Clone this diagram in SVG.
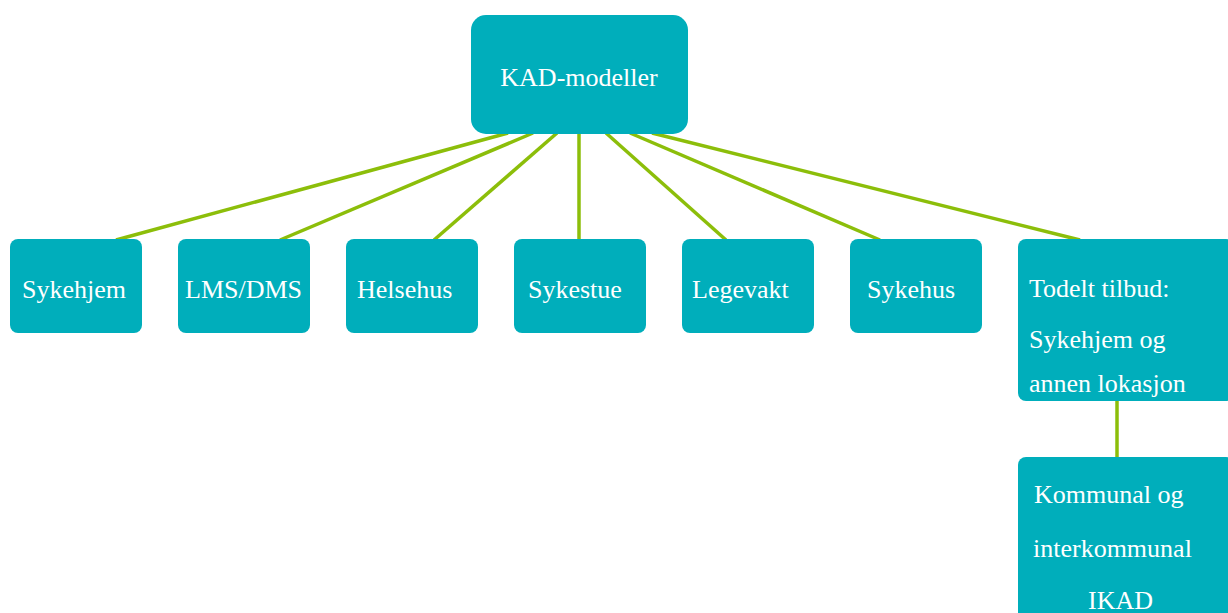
<svg xmlns="http://www.w3.org/2000/svg" width="1228" height="613" viewBox="0 0 1228 613">
<style>
.box{fill:#00AEBB;}
.t{font-family:"Liberation Serif",serif;font-size:26px;fill:#ffffff;}
.c{stroke:#8CBE0A;stroke-width:3.5;fill:none;}
</style>
<rect width="1228" height="613" fill="#ffffff"/>
<g id="connectors">
<line class="c" x1="508" y1="133" x2="116" y2="240"/>
<line class="c" x1="533" y1="133" x2="280" y2="240"/>
<line class="c" x1="557" y1="133" x2="434" y2="240"/>
<line class="c" x1="579" y1="133" x2="579" y2="240"/>
<line class="c" x1="606" y1="133" x2="726" y2="240"/>
<line class="c" x1="630" y1="133" x2="880" y2="240"/>
<line class="c" x1="652" y1="133" x2="1080" y2="240"/>
<line class="c" x1="1117" y1="400" x2="1117" y2="458"/>
</g>
<g id="root">
<rect class="box" x="471" y="15" width="217" height="119" rx="15"/>
<text class="t" x="579" y="86" text-anchor="middle">KAD-modeller</text>
</g>
<g id="sykehjem">
<rect class="box" x="10" y="239" width="132" height="94" rx="8"/>
<text class="t" x="22" y="298">Sykehjem</text>
</g>
<g id="lmsdms">
<rect class="box" x="178" y="239" width="132" height="94" rx="8"/>
<text class="t" x="185" y="298">LMS/DMS</text>
</g>
<g id="helsehus">
<rect class="box" x="346" y="239" width="132" height="94" rx="8"/>
<text class="t" x="357" y="298">Helsehus</text>
</g>
<g id="sykestue">
<rect class="box" x="514" y="239" width="132" height="94" rx="8"/>
<text class="t" x="528" y="298">Sykestue</text>
</g>
<g id="legevakt">
<rect class="box" x="682" y="239" width="132" height="94" rx="8"/>
<text class="t" x="692" y="298">Legevakt</text>
</g>
<g id="sykehus">
<rect class="box" x="850" y="239" width="132" height="94" rx="8"/>
<text class="t" x="867" y="298">Sykehus</text>
</g>
<g id="todelt">
<rect class="box" x="1018" y="239" width="216" height="162" rx="8"/>
<text class="t" x="1029" y="297">Todelt tilbud:</text>
<text class="t" x="1029" y="348">Sykehjem og</text>
<text class="t" x="1029" y="392">annen lokasjon</text>
</g>
<g id="ikad">
<rect class="box" x="1018" y="457" width="216" height="170" rx="8"/>
<text class="t" x="1034" y="503">Kommunal og</text>
<text class="t" x="1033" y="557">interkommunal</text>
<text class="t" x="1088" y="609">IKAD</text>
</g>
</svg>
